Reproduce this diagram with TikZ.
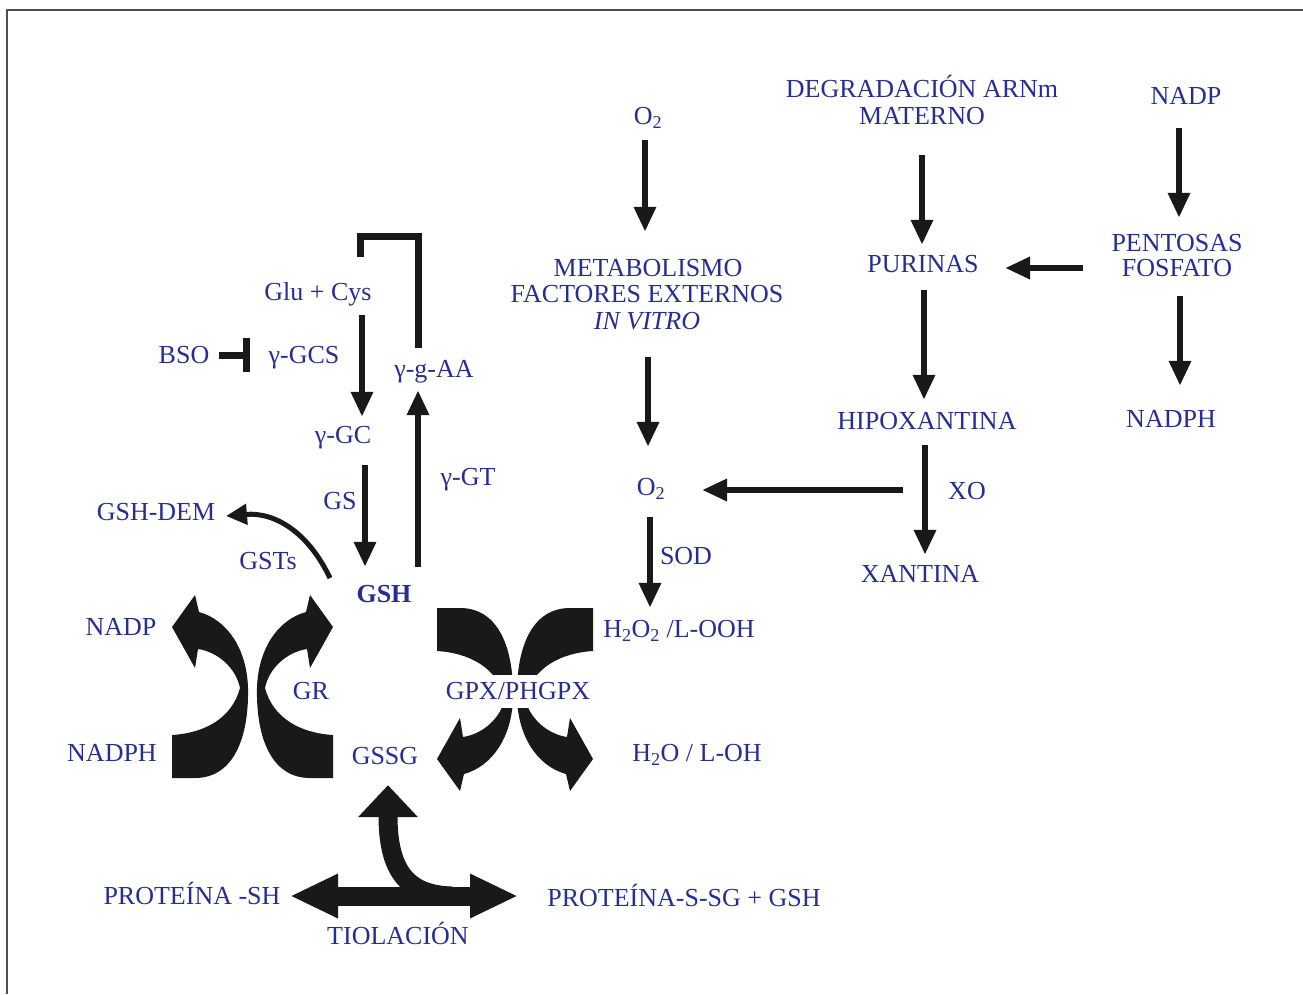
\documentclass[tikz,border=0pt]{standalone}
\usepackage{fontspec}
\setmainfont{Liberation Serif}
\usetikzlibrary{arrows.meta}
\definecolor{txtblue}{RGB}{38,46,145}
\definecolor{ink}{RGB}{25,25,25}
\definecolor{framegray}{RGB}{80,80,80}
\newcommand{\blockarrow}{\fill[ink] (172,735) .. controls (205,733) and (232,718) .. (240,688) .. controls (236,668) and (218,652) .. (198,649) -- (195,668) -- (172,627) -- (195,595) -- (199,612) .. controls (228,620) and (247,650) .. (248,688) .. controls (249,735) and (235,778) .. (195,778) -- (172,778) -- cycle;}
\begin{document}
\begin{tikzpicture}[x=1pt,y=-1pt,
  lbl/.style={text=txtblue, inner sep=0pt, text height=17pt, text depth=0pt, font=\fontsize{26}{27}\selectfont},
  arr/.style={draw=ink, line width=6.5pt, -{Triangle[width=21pt,length=25pt]}},
  brk/.style={draw=ink, line width=7pt, line join=miter},
  inhib/.style={draw=ink, line width=7pt, -{Bar[width=34pt]}},
  thinarr/.style={draw=ink, line width=5pt, -{Triangle[width=20pt,length=21pt]}},
  fatarr/.style={draw=ink, line width=19pt, {Triangle[width=41pt,length=48pt]}-{Triangle[width=41pt,length=48pt]}},
  stemarr/.style={draw=ink, line width=19pt, -{Triangle[width=58pt,length=32pt]}},
  framel/.style={draw=framegray, line width=1.5pt}
]
\useasboundingbox (0,0) rectangle (1303,994);
% frame
\coordinate (fbl) at (7,994);
\coordinate (ftl) at (7,10);
\coordinate (ftr) at (1303,10);
\draw[framel] (fbl) -- (ftl) -- (ftr);

% labels
\node[lbl] (o2a) at (648,116) {O\textsubscript{2}};
\node[lbl] (deg1) at (922,89) {DEGRADACIÓN ARNm};
\node[lbl] (deg2) at (922,116) {MATERNO};
\node[lbl] (nadpR) at (1186,96) {NADP};
\node[lbl] (met1) at (648,268) {METABOLISMO};
\node[lbl] (met2) at (647,294) {FACTORES EXTERNOS};
\node[lbl] (met3) at (647,321) {\itshape IN VITRO};
\node[lbl] (pur) at (923,264) {PURINAS};
\node[lbl] (pen1) at (1177,243) {PENTOSAS};
\node[lbl] (pen2) at (1177,268) {FOSFATO};
\node[lbl] (hip) at (927,421) {HIPOXANTINA};
\node[lbl] (nadphR) at (1171,419) {NADPH};
\node[lbl] (o2b) at (651,487) {O\textsubscript{2}};
\node[lbl] (xo) at (967,491) {XO};
\node[lbl] (sod) at (686,556) {SOD};
\node[lbl] (xan) at (920,574) {XANTINA};
\node[lbl] (h2o2) at (679,629) {H\textsubscript{2}O\textsubscript{2} /L-OOH};
\node[lbl] (h2o) at (697,753) {H\textsubscript{2}O / L-OH};
\node[lbl] (glu) at (318,292) {Glu + Cys};
\node[lbl] (bso) at (184,355) {BSO};
\node[lbl] (gcs) at (304,355) {γ-GCS};
\node[lbl] (gaa) at (434,369) {γ-g-AA};
\node[lbl] (ggc) at (343,435) {γ-GC};
\node[lbl] (ggt) at (468,477) {γ-GT};
\node[lbl] (gs) at (340,501) {GS};
\node[lbl] (gshdem) at (156,512) {GSH-DEM};
\node[lbl] (gsts) at (268,561) {GSTs};
\node[lbl, font=\fontsize{26}{27}\selectfont\bfseries] (gsh) at (384,594) {GSH};
\node[lbl] (nadpL) at (121,627) {NADP};
\node[lbl] (gr) at (311,691) {GR};
\node[lbl] (nadphL) at (112,753) {NADPH};
\node[lbl] (gssg) at (385,756) {GSSG};
\node[lbl] (prot1) at (192,896) {PROTEÍNA -SH};
\node[lbl] (prot2) at (684,898) {PROTEÍNA-S-SG + GSH};
\node[lbl] (tio) at (398,936) {TIOLACIÓN};

% right-hand pathway arrows
\draw[arr, shorten <=15.5pt, shorten >=27.5pt] ([xshift=-3pt]o2a.south) -- ([xshift=-3pt]o2a.south |- met1.north);
\draw[arr, shorten <=27.5pt, shorten >=31.5pt] ([xshift=1pt]met3.south) -- ([xshift=1pt]met3.south |- o2b.north);
\draw[arr, shorten <=21.5pt, shorten >=12.5pt] ([xshift=-1pt]o2b.south) -- ([xshift=-1pt]o2b.south |- h2o2.north);
\draw[arr, shorten <=30.5pt, shorten >=10.5pt] (deg2.south) -- (deg2.south |- pur.north);
\draw[arr, shorten <=23.5pt, shorten >=16.5pt] ([xshift=-7pt]nadpR.south) -- ([xshift=-7pt]nadpR.south |- pen1.north);
\draw[arr, shorten <=94pt, shorten >=82pt] (pen2.center) -- (pen2.center -| pur.center);
\draw[arr, shorten <=17.5pt, shorten >=12.5pt] ([xshift=1pt]pur.south) -- ([xshift=1pt]pur.south |- hip.north);
\draw[arr, shorten <=19.5pt, shorten >=24.5pt] ([xshift=3pt]pen2.south) -- ([xshift=3pt]pen2.south |- nadphR.north);
\draw[arr, shorten <=15.5pt, shorten >=10.5pt] ([xshift=-2pt]hip.south) -- ([xshift=-2pt]hip.south |- xan.north);
\coordinate (xoSrc) at (903,490);
\draw[arr, shorten >=51pt] (xoSrc) -- (xoSrc -| o2b.center);

% glutathione synthesis
\draw[arr, shorten <=14.5pt, shorten >=9.5pt] ([xshift=44pt]glu.south) -- ([xshift=44pt]glu.south |- ggc.north);
\draw[arr, shorten <=21.5pt, shorten >=18.5pt] ([xshift=22pt]ggc.south) -- ([xshift=22pt]ggc.south |- gsh.north);
\draw[arr, shorten <=18.5pt, shorten >=12.5pt] ([xshift=34pt]gsh.north) -- ([xshift=34pt]gsh.north |- gaa.south);
\coordinate (brtop) at (388,236);
\draw[brk, shorten <=12.5pt, shorten >=26.5pt] ([xshift=-16pt]gaa.north) |- (brtop) -| ([xshift=42pt]glu.north);
\draw[inhib, shorten <=35pt, shorten >=54pt] (bso.center) -- (gcs.center);
\draw[thinarr] ([xshift=-54pt,yshift=16pt]gsh.center) .. controls (308,532) and (275,512) .. ([xshift=70pt,yshift=-4pt]gshdem.center);

% block arrows (GR)
\blockarrow
\begin{scope}[shift={(505,0)}, xscale=-1]
\blockarrow
\end{scope}
% block arrows (GPX)
\begin{scope}[shift={(265,1386)}, yscale=-1]
\blockarrow
\end{scope}
\begin{scope}[shift={(765,1386)}, xscale=-1, yscale=-1]
\blockarrow
\end{scope}
\node[lbl, fill=white, inner xsep=2pt, inner ysep=8pt] (gpx) at (518,691) {GPX/PHGPX};

% thiolation
\draw[fatarr, shorten <=98pt, shorten >=166pt] (prot1.center) -- (prot1.center -| prot2.center);
\coordinate (thj) at (452,896);
\draw[stemarr, shorten >=20.5pt] (thj) .. controls (405,895) and (388,868) .. ([xshift=3pt]gssg.south);
\end{tikzpicture}
\end{document}
